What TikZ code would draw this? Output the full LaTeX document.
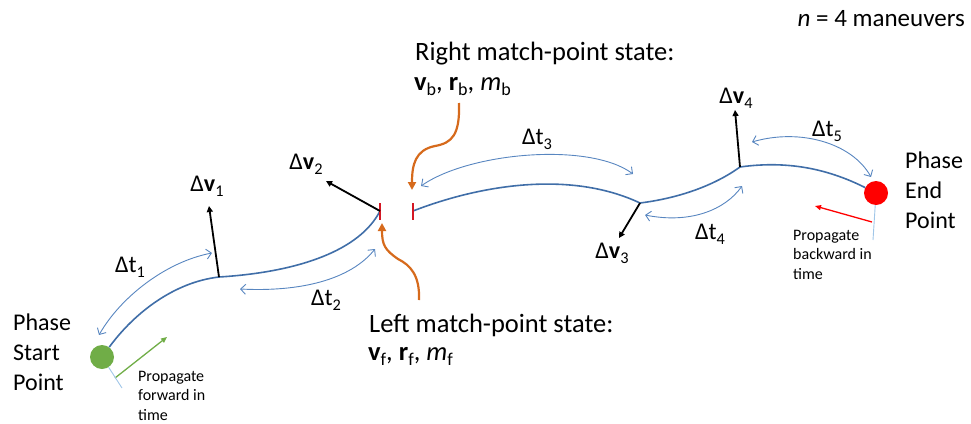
\documentclass[tikz,border=0pt]{standalone}
\usepackage{fontspec}
\setmainfont{Carlito}
\usetikzlibrary{arrows.meta}
\definecolor{trajblue}{RGB}{64,110,168}
\definecolor{dtblue}{RGB}{88,134,192}
\definecolor{orng}{RGB}{214,106,28}
\definecolor{tickred}{RGB}{212,24,36}
\definecolor{dotgreen}{RGB}{112,173,71}
\definecolor{dotred}{RGB}{255,0,0}
\definecolor{leader}{RGB}{160,198,232}
\newcommand{\lowsub}[1]{\raisebox{-0.22em}{\scalebox{0.68}{#1}}}
\begin{document}
\begin{tikzpicture}[x=1pt,y=-1pt,
  big/.style={font=\fontsize{24}{30}\selectfont, inner sep=0pt},
  match/.style={font=\fontsize{26.5}{30}\selectfont, inner sep=0pt},
  small/.style={font=\fontsize{16}{19.5}\selectfont, inner sep=0pt, align=left},
  trajline/.style={draw=trajblue, line width=1.6pt},
  dtarrow/.style={draw=dtblue, line width=0.9pt, {Straight Barb[length=5pt,width=10pt]}-{Straight Barb[length=5pt,width=10pt]}},
  dvarrow/.style={draw=black, line width=1.8pt, -{Triangle[length=6pt,width=6pt]}},
  matcharrow/.style={draw=orng, line width=2.2pt, -{Triangle[length=8pt,width=8pt]}},
  tickmark/.style={draw=tickred, line width=2.8pt},
  leaderline/.style={draw=leader, line width=0.9pt},
  dot/.style={circle, inner sep=0pt, minimum size=24pt}]
\useasboundingbox (0,0) rectangle (971,423);

% dots and junctions
\node[dot, fill=dotgreen] (sdot) at (102,357) {};
\node[dot, fill=dotred] (edot) at (876,193) {};
\coordinate (j1) at (219,277);
\coordinate (lm) at (380,211);
\coordinate (rm) at (413,211);
\coordinate (j3) at (640,203);
\coordinate (j4) at (740,167);

% trajectory
\draw[trajline] (sdot) .. controls (135,312) and (175,282) .. (j1);
\draw[trajline] (j1) .. controls (300,272) and (360,250) .. (lm);
\draw[trajline] (rm) .. controls (480,185) and (570,170) .. (j3);
\draw[trajline] (j3) .. controls (680,198) and (715,185) .. (j4);
\draw[trajline] (j4) .. controls (790,160) and (830,170) .. (edot);

% match-point ticks
\draw[tickmark] ([yshift=-8.5pt]lm) -- ([yshift=8.5pt]lm);
\draw[tickmark] ([yshift=-8.5pt]rm) -- ([yshift=8.5pt]rm);

% delta-v arrows
\coordinate (v1) at (209,206);
\coordinate (v2) at (326,181);
\coordinate (v3) at (619,238);
\coordinate (v4) at (735,110);
\draw[dvarrow] (j1) -- (v1);
\draw[dvarrow] (lm) -- (v2);
\draw[dvarrow] (j3) -- (v3);
\draw[dvarrow] (j4) -- (v4);

% delta-t arrows
\coordinate (t1a) at (99,335);  \coordinate (t1b) at (212,253);
\coordinate (t2a) at (240,289); \coordinate (t2b) at (375,249);
\coordinate (t3a) at (421,186); \coordinate (t3b) at (633,174);
\coordinate (t4a) at (645,215); \coordinate (t4b) at (742,186);
\coordinate (t5a) at (752,142); \coordinate (t5b) at (871,177);
\draw[dtarrow] (t1a) .. controls (120,298) and (165,262) .. (t1b);
\draw[dtarrow] (t2a) .. controls (300,292) and (350,280) .. (t2b);
\draw[dtarrow] (t3a) .. controls (470,152) and (590,142) .. (t3b);
\draw[dtarrow] (t4a) .. controls (690,224) and (725,210) .. (t4b);
\draw[dtarrow] (t5a) .. controls (800,128) and (852,143) .. (t5b);

% match-point callouts
\coordinate (ra) at (459,103);
\coordinate (rtip) at (412,190);
\draw[matcharrow] (ra) .. controls (460,135) and (452,143) .. (435,146)
  .. controls (415,150) and (412,165) .. (rtip);
\coordinate (la) at (419,300);
\coordinate (ltip) at (382,223);
\draw[matcharrow] (la) .. controls (420,275) and (410,265) .. (398,259)
  .. controls (385,250) and (382,245) .. (ltip);

% propagation arrows and leaders
\coordinate (ga) at (115,378); \coordinate (gb) at (167,337);
\draw[draw=dotgreen, line width=1.3pt, -{Triangle[length=6pt,width=5pt]}] (ga) -- (gb);
\coordinate (gl) at (122,388);
\draw[leaderline] (sdot) -- (gl);
\coordinate (ra1) at (872,222); \coordinate (rb1) at (815,206);
\draw[draw=dotred, line width=1.3pt, -{Triangle[length=6pt,width=5pt]}] (ra1) -- (rb1);
\coordinate (rl) at (873,240);
\draw[leaderline] (edot) -- (rl);

% labels
\node[big] (dv1) at (207,186) {Δ\textbf{v}\lowsub{1}};
\node[big] (dv2) at (306,164) {Δ\textbf{v}\lowsub{2}};
\node[big] (dv3) at (612,253) {Δ\textbf{v}\lowsub{3}};
\node[big] (dv4) at (736,98) {Δ\textbf{v}\lowsub{4}};
\node[big] (dt1) at (130,267) {Δt\lowsub{1}};
\node[big] (dt2) at (326,300) {Δt\lowsub{2}};
\node[big] (dt3) at (537,139) {Δt\lowsub{3}};
\node[big] (dt4) at (710,234) {Δt\lowsub{4}};
\node[big] (dt5) at (827,131) {Δt\lowsub{5}};

\node[match, anchor=base west] (rtitle) at (415,60) {Right match-point state:};
\node[match, anchor=base west] (rvars) at (414,90) {\textbf{v}\lowsub{b}, \textbf{r}\lowsub{b}, \textit{m}\lowsub{b}};
\node[match, anchor=base west] (ltitle) at (369,332) {Left match-point state:};
\node[match, anchor=base west] (lvars) at (368,360) {\textbf{v}\lowsub{f}, \textbf{r}\lowsub{f}, \textit{m}\lowsub{f}};
\node[big, font=\fontsize{25}{30}\selectfont, anchor=base east] (nman) at (965,27) {\textit{n} = 4 maneuvers};

\node[big, align=left, anchor=west] (startlbl) at (13,352) {Phase\\Start\\Point};
\node[big, align=left, anchor=west] (endlbl) at (905,190) {Phase\\End\\Point};
\node[small, anchor=west] (fwd) at (138,395.5) {Propagate\\forward in\\time};
\node[small, anchor=west] (bwd) at (793,254.5) {Propagate\\backward in\\time};
\end{tikzpicture}
\end{document}
